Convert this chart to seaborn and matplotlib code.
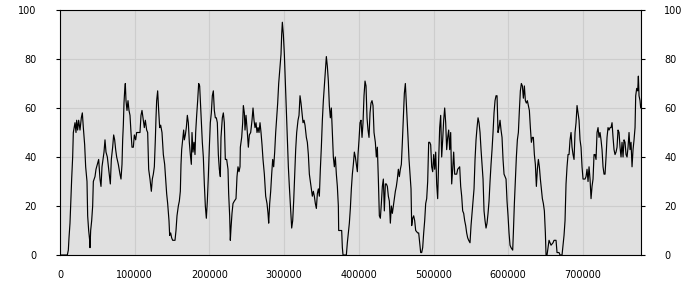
import matplotlib
matplotlib.use("Agg")
import matplotlib.pyplot as plt
import seaborn as sns
import pandas as pd

# --- data ---
x_part1 = [0, 9810, 11150, 12040, 13380, 14720, 15610, 16950, 17840, 20070, 21410, 22300, 23640, 24980, 26770,
           28550, 29890, 31230, 33010, 34350, 36140, 37030, 38370, 39710, 40150, 41050, 42390, 43720, 44620,
           46850, 48190, 49970, 51760, 53540, 54880, 56220, 57560, 58900, 60230, 61570, 63360, 65140, 66480,
           67370, 68710, 70490, 71830, 73170, 74510, 75850, 78080, 80310, 81650, 82990, 83880, 84770, 85660,
           86560, 87450, 88340, 89680, 91020, 92360, 93700, 95030, 96370, 98160, 99500, 101280, 102620, 104850,
           107080, 108420, 109760, 111540, 112880, 114220, 116010, 117350, 118690, 120470, 122260, 123590,
           124930, 126270, 127610, 128500, 129390, 130730, 132070, 133410, 134750, 136530, 138320, 140100,
           141440, 142780, 144120, 145900, 146800, 148130, 149470, 150810, 153940, 155270, 156610, 158400,
           159740, 161080, 161970, 162860, 164200, 165540, 166430, 167770, 169110, 170450, 171780, 173120,
           174460, 175800, 176690, 178030, 179370, 180710, 181600, 182940, 184280, 185620, 186950, 187850,
           189190, 190520, 191860, 193200, 194540, 195880, 197220, 198550, 199890, 201230, 202570, 203910,
           205250, 206590, 207920, 209260, 210600, 211940, 213280, 214620, 215510, 217300, 218630, 219970,
           221310, 223100, 224880, 225770, 227110, 228000, 228900, 230240, 231570, 233360, 235590, 236930,
           238270, 239610, 240950]
y_part1 = [0, 0, 2, 7, 13, 24, 31, 40, 50, 54, 50, 55, 51, 55, 51,
           56, 58, 52, 45, 36, 30, 16, 10, 6, 3, 10, 14, 20, 30,
           32, 35, 37, 39, 31, 28, 36, 39, 42, 47, 42, 40, 35, 31,
           29, 39, 44, 49, 47, 43, 40, 37, 33, 31, 37, 47, 53, 62,
           67, 70, 63, 59, 63, 59, 57, 50, 44, 44, 49, 47, 50, 50,
           50, 57, 59, 55, 52, 55, 51, 50, 35, 31, 26, 31,
           33, 36, 47, 56, 63, 67, 59, 52, 53, 50, 41, 37,
           31, 25, 21, 14, 8, 9, 7, 6, 6, 10, 16, 20,
           22, 26, 37, 43, 47, 51, 47, 49, 52, 57, 54, 46,
           41, 37, 50, 42, 46, 41, 50, 57, 63, 70, 69, 63,
           55, 46, 40, 29, 20, 15, 22, 32, 44, 54, 58, 65,
           67, 59, 56, 56, 54, 41, 35, 32, 48, 56, 58, 54,
           39, 39, 35, 25, 16, 6, 11, 17, 21, 22, 23, 32,
           36, 34, 36]

x_part2 = [241410, 243200, 244540, 245430, 246770, 247660, 249000, 250780, 252120, 253460, 255240, 257030,
           258370, 259710, 261050, 262380, 263720, 265060, 266400, 267740, 269080, 270420, 271750, 273540,
           275320, 277110, 278450, 279340, 280680, 282020, 283360, 284690, 286030, 287370, 288710, 290050,
           291390, 292730, 294510, 295850, 296740, 297630, 298970, 300310, 301650, 302990, 304330, 305670,
           307000, 308340, 309240, 310130, 311470, 312800, 314140, 315480, 316820, 318600, 319940, 321280,
           322620, 323960, 325300, 326640, 327980, 329760, 331100, 332440, 333780, 335110, 336450, 337790,
           339130, 340470, 341810, 343150, 344480, 345820, 347160, 348500, 349840, 351180, 352520, 353860,
           355190, 356530, 357870, 359210, 360550, 361890, 363230, 364560, 365900, 367240, 368580, 369920,
           371260, 372600, 373040, 377060, 377950, 378840, 383300, 384640, 385980, 387320, 388660, 390000,
           391340, 392670, 394010, 395350, 396690, 398030, 398920, 400260, 401600, 402940, 404280, 405610,
           406950, 408290, 409630, 410970, 412310, 413650, 414980, 416320, 417660, 419000, 420340, 422120,
           423460, 424800, 426140, 427480, 428820, 430160, 431490, 432830, 434170, 435510, 436850, 438190,
           439530, 440860, 442200, 443540, 444880, 446220, 447560, 448900, 450230, 451570, 452910, 454250,
           455590, 456930, 458270, 459600, 460940, 462280, 463620, 464510, 465850, 467190, 468530, 469870,
           470760, 472100, 473440, 474780, 476110, 478790, 480130, 481470, 482810, 484150, 485480, 486820,
           488160, 489500, 490840, 492180, 493520, 494850, 496190, 497530, 498870, 500210, 501550, 502890,
           504220, 505560, 506900, 508240, 509580, 510920, 512260, 513590, 514930, 516270, 517610, 518950,
           520290, 521630, 522960, 524300, 525640, 526980, 528320, 531000, 532340, 535010, 536350, 537690,
           539030, 540370, 541710, 543040, 544380, 545720, 547060, 548840]
y_part2 = [44, 48, 54, 61, 58, 51, 57, 50, 44, 49, 50, 55,
           60, 55, 52, 54, 50, 52, 50, 54, 50, 45, 39, 33,
           24, 21, 17, 13, 21, 26, 33, 39, 36, 42, 50, 56,
           62, 70, 77, 82, 90, 95, 90, 82, 71, 59, 47, 36,
           28, 21, 16, 11, 14, 22, 32, 43, 50, 55, 57, 65,
           62, 58, 54, 55, 53, 48, 46, 41, 33, 30, 27, 24,
           26, 24, 21, 19, 25, 27, 24, 35, 44, 55, 63, 69,
           75, 81, 77, 71, 61, 56, 60, 50, 40, 36, 40, 33,
           28, 20, 10, 10, 3, 0, 0, 5, 9, 13, 19, 27,
           33, 37, 42, 40, 37, 34, 41, 47, 54, 55, 48, 54,
           65, 71, 69, 56, 51, 48, 58, 62, 63, 61, 50, 46,
           40, 44, 31, 16, 15, 21, 28, 31, 18, 29, 29, 28,
           24, 22, 13, 20, 17, 20, 23, 26, 28, 31, 35, 32,
           35, 37, 46, 56, 66, 70, 62, 56, 48, 39, 33, 27,
           12, 15, 16, 14, 10, 9, 9, 5, 1, 1, 3, 9,
           14, 21, 23, 30, 46, 46, 45, 36, 34, 41, 35, 42,
           29, 23, 39, 52, 57, 40, 47, 55, 60, 54, 43, 48,
           51, 43, 50, 29, 35, 42, 33, 33, 35, 36, 28, 24,
           18, 17, 14, 12, 9, 7, 6, 5]

x_part3 = [550200, 551540, 552880, 554220, 555560, 556900, 558240, 559580, 560910, 562250, 563590, 564930,
           566270, 567610, 568950, 570280, 571620, 572960, 574300, 575640, 576980, 578320, 579650, 580990,
           582330, 583670, 585010, 586350, 587690, 589020, 590360, 591700, 593040, 594380, 597060, 598390,
           599730, 601070, 602410, 603750, 605980, 606870, 608210, 609550, 610890, 612230, 613570, 614900,
           616240, 617580, 618920, 620260, 621600, 622940, 624270, 625610, 626950, 628290, 629630, 630970,
           632310, 633640, 634980, 636320, 637660, 639000, 640340, 641680, 643010, 644350, 645690, 647030,
           648370, 649710, 650600, 651940, 653280, 654620, 657290, 659970, 661310, 663990, 665320, 668000,
           669340, 672020, 673360, 674690, 676030, 677370, 678710, 680050, 681390, 682730, 684070, 685400,
           686740, 688080, 689420, 690760, 692100, 693440, 694770, 696110, 697450, 698790, 700130, 701470,
           702810, 704140, 705480, 706820, 708160, 709500, 710840, 712180, 713510, 714850, 716190, 717530,
           718870, 720210, 721550, 722880, 724220, 725560, 726900, 728240, 729580, 730920, 732250, 733590,
           734930, 736270, 737610, 738950, 740290, 741620, 742960, 744300, 745640, 746980, 748320, 749660,
           750990, 752330, 753670, 755010, 756350, 757690, 759030, 760370, 761700, 763040, 764380, 765720,
           767060, 768400, 769740, 770630, 771970, 773300, 774200, 775090, 776430, 777320]
y_part3 = [12, 17, 22, 27, 39, 47, 52, 56, 54, 50, 43, 37,
           31, 18, 14, 11, 13, 17, 22, 30, 37, 43, 50, 58,
           63, 65, 65, 50, 52, 55, 51, 48, 39, 33, 31, 22,
           16, 9, 4, 3, 2, 9, 21, 31, 40, 47, 50, 59,
           67, 70, 69, 64, 69, 63, 62, 63, 61, 59, 52, 46,
           48, 48, 41, 37, 28, 35, 39, 36, 31, 27, 23, 21,
           18, 9, 0, 0, 3, 6, 4, 5, 6, 6, 1, 1,
           0, 0, 4, 8, 14, 29, 36, 41, 41, 47, 50, 44,
           41, 39, 50, 54, 61, 58, 55, 47, 44, 36, 31, 31,
           31, 32, 35, 30, 36, 31, 23, 28, 31, 41, 41, 39,
           50, 52, 48, 50, 47, 43, 36, 33, 33, 40, 48, 52,
           51, 52, 52, 54, 48, 43, 41, 42, 44, 51, 50, 44,
           40, 46, 40, 47, 46, 41, 40, 44, 50, 43, 46, 36,
           43, 47, 52, 65, 68, 67, 73, 65, 63, 60]

x_ticks = [0, 100000, 200000, 300000, 400000, 500000, 600000, 700000]
y_ticks = [0, 20, 40, 60, 80, 100]

df = pd.DataFrame({"x": x_part1 + x_part2 + x_part3,
                   "y": y_part1 + y_part2 + y_part3})

sns.set_style("white")
plt.rcParams["font.family"] = ["DejaVu Sans"]

fig = plt.figure(figsize=(7, 3), dpi=100)
ax = fig.add_axes([60 / 700, 1 - 255 / 300, 580.7 / 700, 245 / 300])
ax.set_facecolor("#e0e0e0")

sns.lineplot(data=df, x="x", y="y", color="black", linewidth=0.85, ax=ax,
             estimator=None, sort=False, zorder=3)

ax.set_xlim(0, 777320)
ax.set_ylim(0, 100)
ax.set_xticks(x_ticks)
ax.set_xticklabels([str(v) for v in x_ticks])
ax.set_yticks(y_ticks)
ax.set_yticklabels([str(v) for v in y_ticks])
ax.grid(True, color="#cdcdcd", linewidth=0.8, zorder=0)
ax.set_axisbelow(True)
ax.set_xlabel("")
ax.set_ylabel("")

for s in ax.spines.values():
    s.set_visible(True)
    s.set_color("black")
    s.set_linewidth(0.8)

ax.tick_params(axis="x", direction="out", length=3, width=0.8, pad=8, labelsize=7, colors="black")
ax.tick_params(axis="y", direction="out", length=3, width=0.8, pad=14, labelsize=7, colors="black",
               left=True, right=True, labelleft=True, labelright=True)

fig.savefig("out.png", dpi=100, facecolor="white")
